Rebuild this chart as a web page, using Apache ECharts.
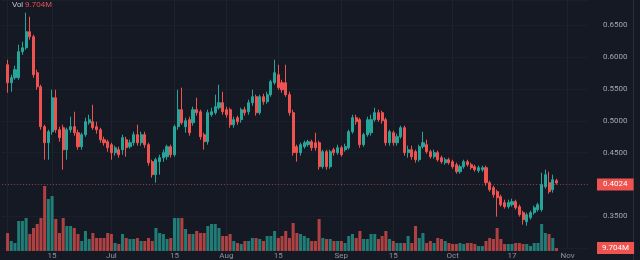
<!DOCTYPE html>
<html><head><meta charset="utf-8">
<script src="https://cdn.jsdelivr.net/npm/echarts@6/dist/echarts.min.js"></script>
<style>html,body{margin:0;padding:0;background:#151924;}#c{width:640px;height:260px;}</style>
</head><body><div id="c"></div>
<script>
// ---- data (daily candles) ----
const firstDay = '2024-06-02';   // first (empty) slot on the time axis
const leadSlots = 1, trailSlots = 8;
const openArr = [.5882,.5599,.5678,.5678,.6087,.6149,.6401,.6322,.5756,.5536,
.4908,.4656,.4829,.5363,.4860,.4892,.4546,.4860,.4908,.4813,
.4593,.4782,.4970,.4986,.4908,.4860,.4703,.4672,.4625,.4499,
.4546,.4546,.4703,.4593,.4656,.4782,.4656,.4782,.4625,.4357,
.4153,.4357,.4420,.4436,.4593,.4467,.4908,.5175,.4908,.5018,
.4970,.5175,.5143,.4782,.4672,.5096,.5128,.5206,.5285,.5175,
.5175,.4939,.5049,.5018,.5175,.5143,.5285,.5379,.5128,.5379,
.5301,.5411,.5599,.5725,.5599,.5599,.5411,.5128,.4593,.4499,
.4593,.4625,.4672,.4656,.4656,.4279,.4515,.4279,.4546,.4499,
.4577,.4546,.4577,.4829,.5049,.5018,.4625,.4782,.4813,.5018,
.5128,.5128,.5018,.4656,.4813,.4656,.4750,.4892,.4499,.4546,
.4515,.4389,.4593,.4625,.4515,.4436,.4499,.4420,.4342,.4389,
.4357,.4310,.4200,.4279,.4357,.4310,.4279,.4216,.4232,.4263,
.4027,.3949,.3886,.3807,.3713,.3650,.3681,.3729,.3650,.3556,
.3414,.3477,.3556,.3603,.3603,.3964,.4027,.3917,.4059];
const closeArr = [.5599,.5678,.5804,.6087,.6149,.6401,.6322,.5725,.5536,.4908,
.4656,.4829,.5363,.4860,.4735,.4546,.4860,.4908,.4813,.4593,
.4782,.4986,.5018,.4892,.4860,.4703,.4656,.4577,.4499,.4577,
.4467,.4735,.4577,.4656,.4782,.4656,.4782,.4625,.4342,.4153,
.4389,.4420,.4499,.4593,.4467,.4908,.5175,.4970,.5002,.4813,
.5175,.5128,.4750,.4672,.5128,.5143,.5222,.5285,.5143,.5096,
.4939,.5018,.4986,.5175,.5128,.5285,.5379,.5128,.5379,.5301,
.5411,.5615,.5756,.5521,.5489,.5411,.5128,.4499,.4499,.4625,
.4656,.4672,.4577,.4577,.4279,.4515,.4279,.4515,.4499,.4577,
.4467,.4593,.4829,.5049,.4986,.4625,.4782,.5018,.5018,.5128,
.5018,.5002,.4656,.4829,.4656,.4750,.4892,.4499,.4546,.4436,
.4389,.4593,.4656,.4515,.4436,.4499,.4389,.4357,.4389,.4342,
.4279,.4200,.4279,.4357,.4310,.4263,.4232,.4263,.4263,.4027,
.3917,.3839,.3791,.3681,.3650,.3713,.3729,.3634,.3524,.3446,
.3524,.3556,.3634,.3681,.3996,.4153,.3886,.4074,.4024];
const lowArr = [.5442,.5458,.5646,.5646,.6039,.6118,.6275,.5678,.5489,.4860,
.4389,.4389,.4782,.4813,.4672,.4232,.4389,.4813,.4766,.4546,
.4546,.4750,.4939,.4860,.4798,.4656,.4609,.4515,.4389,.4452,
.4420,.4467,.4436,.4562,.4609,.4609,.4609,.4577,.4295,.4106,
.4027,.4153,.4357,.4389,.4420,.4436,.4860,.4939,.4813,.4766,
.4923,.5081,.4703,.4546,.4625,.5065,.5096,.5175,.5096,.5049,
.4892,.4892,.4939,.4970,.5081,.5096,.5238,.5081,.5096,.5253,
.5269,.5379,.5568,.5489,.5442,.5379,.5081,.4452,.4357,.4452,
.4562,.4593,.4530,.4530,.4232,.4247,.4232,.4247,.4452,.4467,
.4436,.4515,.4546,.4798,.4939,.4577,.4593,.4750,.4766,.4986,
.4986,.4955,.4609,.4609,.4609,.4609,.4719,.4452,.4420,.4389,
.4342,.4357,.4562,.4483,.4405,.4405,.4357,.4326,.4310,.4310,
.4247,.4169,.4169,.4247,.4279,.4232,.4200,.4184,.4200,.3980,
.3886,.3791,.3493,.3650,.3619,.3619,.3650,.3603,.3493,.3367,
.3351,.3446,.3524,.3571,.3571,.3933,.3854,.3870,.3996];
const highArr = [.5961,.5725,.5867,.6197,.6244,.6700,.6637,.6354,.5804,.5568,
.4939,.4860,.5489,.5489,.4908,.4939,.4892,.5065,.5143,.4860,
.4813,.5049,.5096,.5253,.4986,.4892,.4750,.4703,.4656,.4609,
.4593,.4782,.4750,.4703,.4829,.4939,.4829,.4829,.4656,.4389,
.4420,.4467,.4546,.4625,.4625,.4939,.5489,.5521,.5049,.5065,
.5222,.5363,.5175,.4813,.5175,.5206,.5411,.5568,.5458,.5222,
.5206,.5065,.5081,.5206,.5222,.5332,.5489,.5411,.5411,.5426,
.5458,.5646,.5961,.5882,.5646,.5882,.5458,.5175,.4625,.4656,
.4688,.4703,.4703,.4813,.4688,.4546,.4546,.4546,.4577,.4625,
.4609,.4640,.4860,.5096,.5096,.5049,.4813,.5065,.5096,.5206,
.5175,.5159,.5049,.4860,.4845,.4798,.4923,.4923,.4609,.4609,
.4546,.4625,.4829,.4703,.4546,.4546,.4530,.4452,.4420,.4420,
.4389,.4342,.4310,.4389,.4389,.4342,.4310,.4295,.4295,.4295,
.4059,.3980,.3917,.3839,.3760,.3760,.3776,.3760,.3681,.3587,
.3556,.3587,.3666,.3713,.4184,.4232,.4200,.4153,.4090];
// volume in millions
const volumeM = [59.4,33,26.4,99,99,108.9,56.1,75.9,89.1,108.9,
214.5,171.6,181.5,105.6,59.4,108.9,82.5,82.5,75.9,56.1,
33,66,39.6,59.4,42.9,42.9,42.9,59.4,56.1,26.4,
23.1,56.1,42.9,39.6,39.6,42.9,33,33,42.9,33,
75.9,59.4,56.1,39.6,42.9,108.9,108.9,108.9,72.6,56.1,
56.1,66,59.4,59.4,82.5,89.1,89.1,75.9,49.5,49.5,
56.1,33,26.4,23.1,33,33,42.9,42.9,39.6,33,
49.5,49.5,66,42.9,49.5,66,42.9,92.4,59.4,56.1,
49.5,42.9,33,33,105.6,42.9,39.6,39.6,33,33,
33,26.4,49.5,56.1,42.9,66,39.6,39.6,56.1,56.1,
39.6,49.5,66,39.6,33,26.4,26.4,26.4,49.5,26.4,
82.5,42.9,59.4,26.4,33,26.4,42.9,39.6,33,26.4,
23.1,23.1,26.4,23.1,26.4,26.4,23.1,16.5,16.5,33,
42.9,39.6,75.9,39.6,23.1,23.1,23.1,26.4,26.4,23.1,
23.1,16.5,26.4,26.4,89.1,59.4,56.1,42.9,9.704];
// x-axis tick labels (slot index -> text)
const tickIndex = [13, 29, 46, 60, 74, 91, 105, 121, 137, 152];
const tickLabels = ['15', 'Jul', '15', 'Aug', '15', 'Sep', '15', 'Oct', '17', 'Nov'];
// price axis
const priceMin = 0.30, priceMax = 0.69, priceStep = 0.05;
const volMax = 330;

// ---- build ----
const UP = '#26a69a', DOWN = '#ef5350';
const n = openArr.length;
const total = leadSlots + n + trailSlots;
const categories = [];
const d0 = new Date(firstDay + 'T00:00:00Z');
for (let i = 0; i < total; i++) {
  const d = new Date(d0.getTime() + i * 86400000);
  categories.push(d.toISOString().slice(0, 10));
}
const candleData = [], volData = [];
for (let i = 0; i < total; i++) {
  const k = i - leadSlots;
  if (k < 0 || k >= n) { candleData.push('-'); volData.push('-'); continue; }
  candleData.push([openArr[k], closeArr[k], lowArr[k], highArr[k]]);
  const up = closeArr[k] >= openArr[k];
  volData.push({ value: volumeM[k], itemStyle: { color: up ? UP : DOWN, opacity: 0.7 } });
}
const lastClose = closeArr[n - 1];
const lastUp = closeArr[n - 1] >= openArr[n - 1];
const lastVol = volumeM[n - 1];
const lastColor = lastUp ? UP : DOWN;
const fmtVol = v => v.toFixed(3) + 'M';
const FONT = 'Roboto, "Noto Sans", sans-serif';

const chart = echarts.init(document.getElementById('c'), null, { renderer: 'canvas' });
chart.setOption({
  backgroundColor: '#151924',
  animation: false,
  textStyle: { fontFamily: FONT },
  grid: [
    { left: 2, right: 52, top: 0, height: 248 },
    { left: 2, right: 52, bottom: 9, height: 100 }
  ],
  xAxis: [
    { type: 'category', gridIndex: 0, data: categories, boundaryGap: true,
      axisLine: { show: false }, axisTick: { show: false }, axisLabel: { show: false },
      splitLine: { show: true, alignWithLabel: true, interval: idx => tickIndex.includes(idx) || idx === leadSlots,
        lineStyle: { color: '#1e2230', width: 1 } } },
    { type: 'category', gridIndex: 1, data: categories, boundaryGap: true,
      axisLine: { show: false }, axisTick: { show: false }, splitLine: { show: false },
      axisLabel: { show: true, interval: idx => tickIndex.includes(idx),
        formatter: (v, idx) => { const j = tickIndex.indexOf(idx); return j >= 0 ? tickLabels[j] : ''; },
        color: '#8f929b', fontSize: 8, margin: 1, fontFamily: FONT } }
  ],
  yAxis: [
    { type: 'value', gridIndex: 0, position: 'right', min: priceMin, max: priceMax, interval: priceStep,
      axisLine: { show: false }, axisTick: { show: false },
      axisLabel: { color: '#a3a6af', fontSize: 8, margin: 15, showMaxLabel: false, showMinLabel: false,
        fontFamily: FONT,
        formatter: v => Math.abs(v - lastClose) < 0.012 ? '' : v.toFixed(4) },
      splitLine: { show: true, lineStyle: { color: '#1b1f2b', width: 1 } } },
    { type: 'value', gridIndex: 1, min: 0, max: volMax, show: false, splitLine: { show: false } }
  ],
  series: [
    { type: 'candlestick', xAxisIndex: 0, yAxisIndex: 0, data: candleData, barWidth: '70%',
      itemStyle: { color: UP, color0: DOWN, borderColor: UP, borderColor0: DOWN, borderWidth: 1 },
      markLine: { symbol: 'none', silent: true, animation: false,
        data: [{ yAxis: lastClose }],
        lineStyle: { color: lastColor, type: [1, 2], width: 1, opacity: 0.5 },
        label: { show: true, position: 'end', distance: 9, formatter: lastClose.toFixed(4),
          backgroundColor: lastColor, color: '#ffffff', opacity: 1, padding: [2, 6, 2, 6], fontSize: 8, fontFamily: FONT } } },
    { type: 'bar', xAxisIndex: 1, yAxisIndex: 1, data: volData, barWidth: '82%',
      markLine: { symbol: 'none', silent: true, animation: false,
        data: [{ yAxis: lastVol }],
        lineStyle: { color: 'rgba(0,0,0,0)', width: 1 },
        label: { show: true, position: 'end', distance: 9, formatter: fmtVol(lastVol),
          backgroundColor: lastColor, color: '#ffffff', padding: [2, 5, 2, 5], fontSize: 8, fontFamily: FONT } } }
  ],
  graphic: [
    { type: 'text', left: 12, top: 1,
      style: { text: '{a|Vol} {b|' + fmtVol(lastVol) + '}', font: '8px ' + FONT,
        rich: { a: { fill: '#c8cad1', fontSize: 8 }, b: { fill: lastColor, fontSize: 8 } } } },
    { type: 'rect', left: 633, top: 0, shape: { width: 1, height: 260 }, style: { fill: '#2a2e39' } }
  ]
});
</script>
</body></html>
